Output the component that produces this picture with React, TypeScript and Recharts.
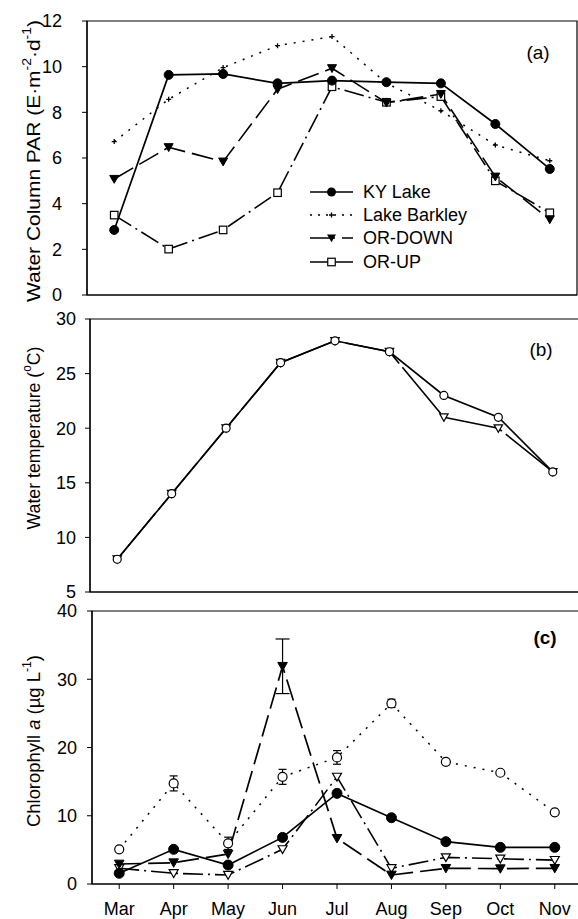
import React from 'react';
import { LineChart, Line, XAxis, YAxis, ReferenceArea, ErrorBar } from 'recharts';

// ---------- data ----------
const months = ['Mar', 'Apr', 'May', 'Jun', 'Jul', 'Aug', 'Sep', 'Oct', 'Nov'];
const monthNums = [3, 4, 5, 6, 7, 8, 9, 10, 11];
const seriesNames = ['KY Lake', 'Lake Barkley', 'OR-DOWN', 'OR-UP'];

// (a) Water column PAR
const parKY = [2.85, 9.64, 9.68, 9.27, 9.39, 9.32, 9.27, 7.49, 5.52];
const parBarkley = [6.72, 8.57, 9.96, 10.92, 11.32, 9.28, 8.07, 6.57, 5.88];
const parDown = [5.08, 6.47, 5.84, 9.01, 9.93, 8.42, 8.8, 5.18, 3.31];
const parUp = [3.5, 2.01, 2.85, 4.48, 9.12, 8.44, 8.69, 5.0, 3.6];
const parTicks = [0, 2, 4, 6, 8, 10, 12];

// (b) Water temperature
const tempCircle = [8, 14, 20, 26, 28, 27, 23, 21, 16];
const tempTriangle = [8, 14, 20, 26, 28, 27, 21, 20, 16];
const tempTicks = [5, 10, 15, 20, 25, 30];

// (c) Chlorophyll a
const chlKY = [1.57, 5.08, 2.78, 6.83, 13.28, 9.71, 6.2, 5.37, 5.37];
const chlBarkley = [5.08, 14.74, 5.96, 15.7, 18.55, 26.46, 17.9, 16.3, 10.5];
const chlBarkleyErr = [null, 1.1, 0.9, 1.1, 1.0, 0.6, null, null, null];
const chlDown = [2.93, 3.12, 4.39, 31.9, 6.69, 1.32, 2.3, 2.25, 2.3];
const chlDownErr = [null, null, null, 4.0, null, null, null, null, null];
const chlUp = [2.3, 1.57, 1.32, 5.08, 15.7, 2.3, 3.9, 3.7, 3.5];
const chlTicks = [0, 10, 20, 30, 40];

const parData = monthNums.map((m, i) => ({ m, ky: parKY[i], barkley: parBarkley[i], down: parDown[i], up: parUp[i] }));
const tempData = monthNums.map((m, i) => ({ m, circ: tempCircle[i], tri: tempTriangle[i] }));
const chlData = monthNums.map((m, i) => ({
  m,
  ky: chlKY[i],
  barkley: chlBarkley[i],
  barkleyErr: chlBarkleyErr[i],
  down: chlDown[i],
  downErr: chlDownErr[i],
  up: chlUp[i],
}));

// ---------- styling ----------
const FONT = '"Liberation Sans", Arial, Helvetica, sans-serif';
const PLOT_W = 490;
const CHART_W = 600;
const X_DOMAIN: [number, number] = [2.5, 11.5];
const DASH_LONG = '22 7';
const DASH_DOT = '20 5 2 5';
const DOTTED = '2 7';

const triPath = (cx: number, cy: number, s: number) =>
  `M${cx - s},${cy - s * 0.8} L${cx + s},${cy - s * 0.8} L${cx},${cy + s * 0.95} Z`;

const mkFilledCircle = (r: number, id: string) => (p: any) =>
  <circle key={`${id}-${p.index}`} cx={p.cx} cy={p.cy} r={r} fill="#000" stroke="#000" strokeWidth={1} />;
const mkOpenCircle = (r: number, id: string) => (p: any) =>
  <circle key={`${id}-${p.index}`} cx={p.cx} cy={p.cy} r={r} fill="#fff" stroke="#000" strokeWidth={1.2} />;
const mkFilledTri = (s: number, id: string) => (p: any) =>
  <path key={`${id}-${p.index}`} d={triPath(p.cx, p.cy, s)} fill="#000" stroke="#000" strokeWidth={1} />;
const mkOpenTri = (s: number, id: string) => (p: any) =>
  <path key={`${id}-${p.index}`} d={triPath(p.cx, p.cy, s)} fill="#fff" stroke="#000" strokeWidth={1.2} />;
const mkSquare = (s: number, id: string) => (p: any) =>
  <rect key={`${id}-${p.index}`} x={p.cx - s} y={p.cy - s} width={2 * s} height={2 * s} fill="#fff" stroke="#000" strokeWidth={1.2} />;
const mkPlus = (s: number, id: string) => (p: any) =>
  <path key={`${id}-${p.index}`} d={`M${p.cx - s},${p.cy} H${p.cx + s} M${p.cx},${p.cy - s} V${p.cy + s}`} stroke="#000" strokeWidth={1.3} fill="none" />;

const tickStyle = { fill: '#000', fontSize: 18, fontFamily: FONT };

function Panel(props: {
  top: number; height: number; plotLeft: number; marginTop: number; marginBottom: number;
  xHeight: number; showMonths: boolean; data: any[]; yDomain: [number, number]; yTicks: number[];
  yTickMargin: number; children: React.ReactNode;
}) {
  const { top, height, plotLeft, marginTop, marginBottom, xHeight, showMonths, data, yDomain, yTicks, yTickMargin, children } = props;
  return (
    <div style={{ position: 'absolute', left: 0, top }}>
      <LineChart
        width={CHART_W}
        height={height}
        data={data}
        margin={{ top: marginTop, bottom: marginBottom, left: plotLeft - 70, right: CHART_W - plotLeft - PLOT_W }}
      >
        <XAxis
          dataKey="m"
          type="number"
          domain={X_DOMAIN}
          ticks={monthNums}
          interval={0}
          height={xHeight}
          tickSize={5}
          tickMargin={13}
          axisLine={{ stroke: '#000', strokeWidth: 1.2 }}
          tickLine={{ stroke: '#000', strokeWidth: 1 }}
          tick={showMonths ? tickStyle : false}
          tickFormatter={(v: number) => months[monthNums.indexOf(v)]}
        />
        <YAxis
          type="number"
          domain={yDomain}
          ticks={yTicks}
          interval={0}
          width={70}
          tickSize={5}
          tickMargin={yTickMargin}
          axisLine={{ stroke: '#000', strokeWidth: 1.2 }}
          tickLine={{ stroke: '#000', strokeWidth: 1 }}
          tick={tickStyle}
        />
        <ReferenceArea x1={X_DOMAIN[0]} x2={X_DOMAIN[1]} y1={yDomain[0]} y2={yDomain[1]} fill="none" fillOpacity={0} stroke="#000" strokeWidth={1.2} />
        {children}
      </LineChart>
    </div>
  );
}

function LegendA() {
  const rows = [192, 215, 238, 262];
  const x1 = 310, x2 = 353, mx = 331.5;
  return (
    <g fontFamily={FONT} fontSize={18} fill="#000">
      <line x1={x1} x2={x2} y1={rows[0]} y2={rows[0]} stroke="#000" strokeWidth={1.6} />
      <circle cx={mx} cy={rows[0]} r={4.5} fill="#000" />
      <line x1={x1} x2={x2} y1={rows[1]} y2={rows[1]} stroke="#000" strokeWidth={1.5} strokeDasharray="2 6" />
      <path d={`M${mx - 2.5},${rows[1]} H${mx + 2.5} M${mx},${rows[1] - 2.5} V${rows[1] + 2.5}`} stroke="#000" strokeWidth={1.3} />
      <line x1={x1} x2={x2} y1={rows[2]} y2={rows[2]} stroke="#000" strokeWidth={1.6} strokeDasharray="25 7" />
      <path d={triPath(mx, rows[2], 4.5)} fill="#000" />
      <line x1={x1} x2={x2} y1={rows[3]} y2={rows[3]} stroke="#000" strokeWidth={1.6} />
      <rect x={mx - 3.75} y={rows[3] - 3.75} width={7.5} height={7.5} fill="#fff" stroke="#000" strokeWidth={1.2} />
      {seriesNames.map((n, i) => (
        <text key={n} x={363} y={rows[i]} dominantBaseline="central">{n}</text>
      ))}
    </g>
  );
}

function Overlay() {
  return (
    <svg width={578} height={919} style={{ position: 'absolute', left: 0, top: 0, pointerEvents: 'none' }}>
      <g fontFamily={FONT} fill="#000">
        <text transform="translate(34,161) rotate(-90)" textAnchor="middle" dominantBaseline="central" fontSize={18}
          textLength={282} lengthAdjust="spacingAndGlyphs">
          Water Column PAR (E·m<tspan dy={-7} fontSize={12}>-2</tspan><tspan dy={7}>·d</tspan><tspan dy={-7} fontSize={12}>-1</tspan><tspan dy={7}>)</tspan>
        </text>
        <text transform="translate(34,438) rotate(-90)" textAnchor="middle" dominantBaseline="central" fontSize={18}
          textLength={183} lengthAdjust="spacingAndGlyphs">
          Water temperature (<tspan dy={-7} fontSize={12}>o</tspan><tspan dy={7}>C)</tspan>
        </text>
        <text transform="translate(34,741) rotate(-90)" textAnchor="middle" dominantBaseline="central" fontSize={18}
          textLength={172} lengthAdjust="spacingAndGlyphs">
          Chlorophyll <tspan fontStyle="italic">a</tspan> (µg L<tspan dy={-7} fontSize={12}>-1</tspan><tspan dy={7}>)</tspan>
        </text>
        <text x={538} y={52} textAnchor="middle" dominantBaseline="central" fontSize={19}>(a)</text>
        <text x={541} y={349} textAnchor="middle" dominantBaseline="central" fontSize={19}>(b)</text>
        <text x={545} y={637} textAnchor="middle" dominantBaseline="central" fontSize={19} fontWeight="bold">(c)</text>
        <LegendA />
      </g>
    </svg>
  );
}

export default function App() {
  const common = { isAnimationActive: false, stroke: '#000', activeDot: false as const, type: 'linear' as const };
  return (
    <div style={{ position: 'absolute', left: 0, top: 0, width: 578, height: 919, overflow: 'hidden', background: '#fff' }}>
      {/* (a) PAR */}
      <Panel top={0} height={310} plotLeft={87} marginTop={21} marginBottom={5} xHeight={10} showMonths={false}
        data={parData} yDomain={[0, 12]} yTicks={parTicks} yTickMargin={20}>
        <Line {...common} dataKey="barkley" strokeWidth={1.5} strokeDasharray={DOTTED} dot={mkPlus(2.5, 'pb')} />
        <Line {...common} dataKey="up" strokeWidth={1.6} strokeDasharray={DASH_DOT} dot={mkSquare(3.75, 'pu')} />
        <Line {...common} dataKey="down" strokeWidth={1.6} strokeDasharray={DASH_LONG} dot={mkFilledTri(4.5, 'pd')} />
        <Line {...common} dataKey="ky" strokeWidth={1.7} dot={mkFilledCircle(4.5, 'pk')} />
      </Panel>
      {/* (b) temperature */}
      <Panel top={300} height={305} plotLeft={90} marginTop={19} marginBottom={3} xHeight={10} showMonths={false}
        data={tempData} yDomain={[5, 30]} yTicks={tempTicks} yTickMargin={9}>
        <Line {...common} dataKey="tri" strokeWidth={1.6} strokeDasharray="60 5" dot={mkOpenTri(4.2, 'tt')} />
        <Line {...common} dataKey="circ" strokeWidth={1.6} dot={mkOpenCircle(4, 'tc')} />
      </Panel>
      {/* (c) chlorophyll */}
      <Panel top={590} height={329} plotLeft={92} marginTop={21} marginBottom={5} xHeight={30} showMonths={true}
        data={chlData} yDomain={[0, 40]} yTicks={chlTicks} yTickMargin={10}>
        <Line {...common} dataKey="barkley" strokeWidth={1.5} strokeDasharray={DOTTED} dot={mkOpenCircle(4.5, 'cb')}>
          <ErrorBar dataKey="barkleyErr" width={4} stroke="#000" strokeWidth={1.2} direction="y" />
        </Line>
        <Line {...common} dataKey="up" strokeWidth={1.6} strokeDasharray={DASH_DOT} dot={mkOpenTri(4.5, 'cu')} />
        <Line {...common} dataKey="down" strokeWidth={1.7} strokeDasharray={DASH_LONG} dot={mkFilledTri(4.8, 'cd')}>
          <ErrorBar dataKey="downErr" width={7} stroke="#000" strokeWidth={1.2} direction="y" />
        </Line>
        <Line {...common} dataKey="ky" strokeWidth={1.7} dot={mkFilledCircle(5, 'ck')} />
      </Panel>
      <Overlay />
    </div>
  );
}
